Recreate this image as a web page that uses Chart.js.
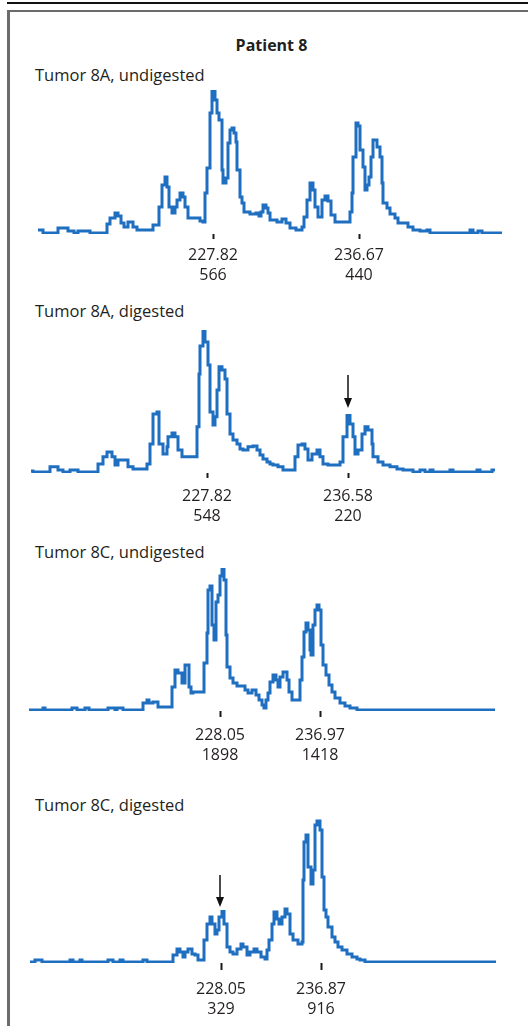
<!DOCTYPE html>
<html>
<head>
<meta charset="utf-8">
<script src="https://cdn.jsdelivr.net/npm/chart.js@4.4.1/dist/chart.umd.min.js"></script>
<style>
  html, body { margin:0; padding:0; background:#fff; overflow:hidden; }
  #wrap { position:relative; width:528px; height:1026px; background:#fff; font-family:"Open Sans", sans-serif; color:#231f20; }
  .rule { position:absolute; left:7px; top:2px; width:521px; height:2px; background:#111; }
  .frameTop { position:absolute; left:7px; top:10px; width:521px; height:2px; background:#6b6b6b; }
  .frameLeft { position:absolute; left:7px; top:10px; width:3px; height:1016px; background:#6b6b6b; }
  .hdr { position:absolute; left:0; width:543px; text-align:center; font-weight:700; font-size:16px; line-height:16px; top:37px; white-space:nowrap; }
  .ttl { position:absolute; left:35px; font-size:16.5px; line-height:16.5px; white-space:nowrap; }
  canvas { position:absolute; left:0; }
</style>
</head>
<body>
<div id="wrap">
  <div class="rule"></div>
  <div class="frameTop"></div>
  <div class="frameLeft"></div>
  <div class="hdr">Patient 8</div>
  <div class="ttl" style="top:67px">Tumor 8A, undigested</div>
  <div class="ttl" style="top:303px">Tumor 8A, digested</div>
  <div class="ttl" style="top:544px">Tumor 8C, undigested</div>
  <div class="ttl" style="top:797px">Tumor 8C, digested</div>
  <canvas id="c1" width="528" height="209" style="top:85px"></canvas>
  <canvas id="c2" width="528" height="211" style="top:322px"></canvas>
  <canvas id="c3" width="528" height="211" style="top:560px"></canvas>
  <canvas id="c4" width="528" height="208" style="top:815px"></canvas>
</div>
<script>
// ---------- DATA (scan number vs. relative fluorescence units) ----------
// Tumor 8A, undigested
const scan1 = [38,43,58,68,74,78,90,107,110,115,118,121,124,128,133,137,153,159,162,165,167,169,172,175,177,180,183,185,188,200,203,205,207,210,212,215,217,219,222,223,226,228,230,232,234,236,237,240,242,244,250,256,259,261,263,266,268,270,277,282,286,290,296,302,304,307,310,313,315,318,322,325,328,331,335,347,350,352,353,356,358,360,363,365,367,369,371,373,377,380,382,383,387,390,395,398,408,413,420,427,430,470,473,478,482,502];
const rfu1  = [12,0,20,8,0,8,0,36,60,80,68,40,24,44,24,12,32,104,192,224,184,104,80,104,132,160,144,104,60,48,44,160,260,480,566,532,480,452,252,200,220,360,412,420,400,364,252,144,120,84,76,80,68,84,112,100,80,52,44,56,40,20,12,24,64,132,200,172,104,64,132,148,128,72,44,44,84,160,304,440,428,332,264,172,192,224,304,372,344,304,200,120,100,76,60,40,24,12,8,12,0,12,0,8,0,0];
const peakScan1 = [213, 359];
const peakSize1 = ['227.82', '236.67'];
const peakHeight1 = [566, 440];

// Tumor 8A, digested
const scan2 = [31,33,50,58,63,70,78,98,103,107,112,115,118,128,133,147,150,153,157,159,163,167,168,172,175,178,182,197,199,200,203,205,208,210,213,215,217,219,222,225,227,230,233,237,240,243,248,253,257,260,263,267,270,273,278,283,295,298,302,305,308,312,317,320,323,328,340,343,347,350,353,355,358,362,365,368,372,373,378,383,390,397,403,413,420,425,430,433,450,453,477,480,492,495];
const rfu2  = [4,0,20,8,0,8,0,31,59,78,59,27,47,20,12,31,109,226,234,109,70,98,137,152,137,86,59,176,382,491,548,507,417,234,183,215,320,410,398,363,226,148,125,109,90,86,98,101,86,66,51,39,31,27,20,8,59,105,109,90,47,70,86,59,31,27,39,137,220,187,137,70,86,148,176,164,109,59,39,27,20,12,8,0,8,0,8,0,8,0,8,0,8,8];
const peakScan2 = [207, 348];
const peakSize2 = ['227.82', '236.58'];
const peakHeight2 = [548, 220];

// Tumor 8C, undigested
const scan3 = [29,43,45,72,77,85,89,108,115,117,123,143,147,149,153,158,172,175,178,182,185,189,191,193,204,207,208,210,212,214,216,218,220,222,224,226,227,230,233,237,245,248,252,256,259,262,264,266,268,270,273,276,278,280,283,287,289,292,300,302,304,306,308,310,311,313,315,317,319,321,323,326,329,332,335,340,345,350,357,495];
const rfu3  = [0,27,0,27,0,27,0,27,0,27,0,95,135,95,108,41,311,540,500,365,608,311,230,243,635,1040,1620,1674,1148,945,1458,1553,1809,1898,1755,1013,581,432,365,324,270,230,270,203,135,68,27,135,230,378,473,405,311,446,513,405,243,135,405,716,1053,1175,1080,810,743,1148,1350,1418,1350,878,608,473,338,243,162,95,54,27,0,0];
const peakScan3 = [220, 320];
const peakSize3 = ['228.05', '236.97'];
const peakHeight3 = [1898, 1418];

// Tumor 8C, digested
const scan4 = [30,35,42,70,73,80,82,108,113,120,123,143,147,173,177,180,183,185,188,192,195,198,204,207,210,212,215,217,219,222,224,227,230,233,237,241,243,247,250,254,257,261,265,267,269,272,274,277,279,282,285,287,290,293,298,302,303,304,306,308,311,313,315,317,320,322,324,326,328,332,335,338,342,347,352,357,360,365,496];
const rfu4  = [0,13,0,13,0,13,0,13,0,13,0,13,0,46,85,65,33,65,85,52,46,13,143,247,293,247,182,208,293,329,247,98,65,52,85,117,98,46,65,85,65,33,20,78,143,247,325,280,247,293,345,312,182,143,117,130,533,780,826,618,507,598,891,916,858,553,338,293,228,163,130,98,78,52,33,20,13,0,0];
const peakScan4 = [221, 321];
const peakSize4 = ['228.05', '236.87'];
const peakHeight4 = [329, 916];

// arrows marking the peak that changed after digestion
const arrowScan2 = 348, arrowFrom2 = 378, arrowTo2 = 250;
const arrowScan4 = 220, arrowFrom4 = 565, arrowTo4 = 357;

// ---------- CHARTS ----------
const BLUE = '#1f6fc1';
const arrowPlugin = {
  id: 'arrowMark',
  afterDatasetsDraw(chart, args, opts) {
    if (opts.scan == null) return;
    const ctx = chart.ctx;
    const x = chart.scales.x.getPixelForValue(opts.scan);
    const y0 = chart.scales.y.getPixelForValue(opts.from);
    const y1 = chart.scales.y.getPixelForValue(opts.to);
    ctx.save();
    ctx.strokeStyle = '#111'; ctx.fillStyle = '#111'; ctx.lineWidth = 1.5;
    ctx.beginPath(); ctx.moveTo(x, y0); ctx.lineTo(x, y1 - 8); ctx.stroke();
    ctx.beginPath(); ctx.moveTo(x - 4, y1 - 10); ctx.lineTo(x + 4, y1 - 10); ctx.lineTo(x, y1); ctx.closePath(); ctx.fill();
    ctx.restore();
  }
};

function makeChart(id, scans, rfus, pScan, pSize, pHeight, yMin, yMax, labelPad, tickLen, arrow) {
  const pts = scans.map((s, i) => ({ x: s, y: rfus[i] }));
  return new Chart(document.getElementById(id), {
    type: 'line',
    data: { datasets: [{ data: pts, borderColor: BLUE, borderWidth: 3, pointRadius: 0, stepped: 'before', fill: false, tension: 0 }] },
    options: {
      responsive: false, animation: false, events: [],
      layout: { padding: 0 },
      plugins: { legend: { display: false }, tooltip: { enabled: false }, arrowMark: arrow || {} },
      scales: {
        x: {
          type: 'linear', min: 0, max: 528,
          afterBuildTicks: s => { s.ticks = pScan.map(v => ({ value: v })); },
          afterFit: s => { s.height = 60; },
          ticks: {
            autoSkip: false, maxRotation: 0, padding: labelPad, color: '#231f20',
            font: { family: 'Open Sans', size: 16, lineHeight: 1.25 },
            callback: (v) => { const i = pScan.indexOf(v); return [pSize[i], String(pHeight[i])]; }
          },
          grid: { display: true, drawOnChartArea: false, drawTicks: true, tickLength: tickLen, tickWidth: 2, tickColor: '#1a1a1a' },
          border: { display: false }
        },
        y: { display: false, min: yMin, max: yMax }
      }
    },
    plugins: [arrowPlugin]
  });
}

makeChart('c1', scan1, rfu1, peakScan1, peakSize1, peakHeight1, -4, 592, 6, 5);
makeChart('c2', scan2, rfu2, peakScan2, peakSize2, peakHeight2, -3.9, 585, 8, 5, { scan: arrowScan2, from: arrowFrom2, to: arrowTo2 });
makeChart('c3', scan3, rfu3, peakScan3, peakSize3, peakHeight3, -13.5, 2025, 8, 6);
makeChart('c4', scan4, rfu4, peakScan4, peakSize4, peakHeight4, -6.5, 955.5, 9, 7, { scan: arrowScan4, from: arrowFrom4, to: arrowTo4 });
</script>
</body>
</html>
